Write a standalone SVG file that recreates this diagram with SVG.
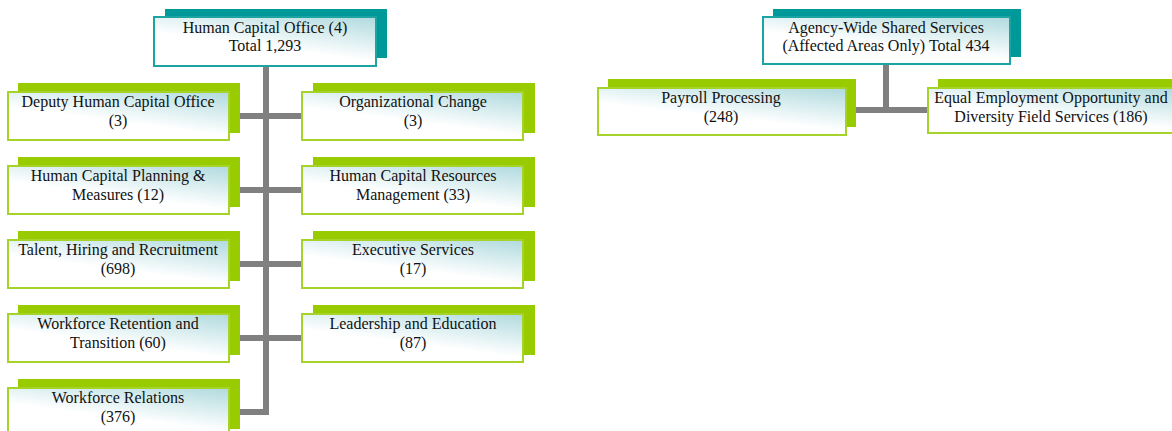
<svg xmlns="http://www.w3.org/2000/svg" width="1172" height="431" viewBox="0 0 1172 431">
  <defs>
    <linearGradient id="fill" x1="0.95" y1="0" x2="0.35" y2="1">
      <stop offset="0" stop-color="#b2dbdf"/>
      <stop offset="0.65" stop-color="#ffffff"/>
    </linearGradient>
    <style>
      .sh-g { fill: #99cc00; }
      .sh-t { fill: #009999; }
      .box-g { fill: url(#fill); stroke: #a6d32a; stroke-width: 2; }
      .box-t { fill: url(#fill); stroke: #1ea3a3; stroke-width: 2; }
      .conn { fill: none; stroke: #808080; stroke-width: 6; stroke-linejoin: miter; stroke-linecap: butt; }
      .lbl { font-family: 'Liberation Serif', 'Times New Roman', Times, serif; font-size: 16px; fill: #111111; text-anchor: middle; }
    </style>
  </defs>
  <rect width="1172" height="431" fill="#ffffff"/>

  <!-- connectors -->
  <g id="connectors">
    <path class="conn" d="M266 66 V412 H229"/>
    <path class="conn" d="M229 116 H302"/>
    <path class="conn" d="M229 190 H302"/>
    <path class="conn" d="M229 264 H302"/>
    <path class="conn" d="M229 338 H302"/>
    <path class="conn" d="M886 64 V110"/>
    <path class="conn" d="M846 110 H927"/>
  </g>

  <g class="lbl" font-family="Liberation Serif, serif">
  <!-- Human Capital Office tree -->
  <g id="hco">
    <rect class="sh-t" x="165" y="9" width="222" height="49"/>
    <rect class="box-t" x="154" y="17" width="222" height="49"/>
    <text x="265" y="33">Human Capital Office (4)</text>
    <text x="265" y="51">Total 1,293</text>
  </g>

  <g id="deputy">
    <rect class="sh-g" x="18" y="83" width="222" height="50"/>
    <rect class="box-g" x="8" y="92" width="221" height="48"/>
    <text x="118" y="107">Deputy Human Capital Office</text>
    <text x="118" y="126">(3)</text>
  </g>

  <g id="planning">
    <rect class="sh-g" x="18" y="157" width="222" height="50"/>
    <rect class="box-g" x="8" y="166" width="221" height="48"/>
    <text x="118" y="181">Human Capital Planning &amp;</text>
    <text x="118" y="200">Measures (12)</text>
  </g>

  <g id="talent">
    <rect class="sh-g" x="18" y="231" width="222" height="50"/>
    <rect class="box-g" x="8" y="240" width="221" height="48"/>
    <text x="118" y="255">Talent, Hiring and Recruitment</text>
    <text x="118" y="274">(698)</text>
  </g>

  <g id="retention">
    <rect class="sh-g" x="18" y="305" width="222" height="50"/>
    <rect class="box-g" x="8" y="314" width="221" height="48"/>
    <text x="118" y="329">Workforce Retention and</text>
    <text x="118" y="348">Transition (60)</text>
  </g>

  <g id="relations">
    <rect class="sh-g" x="18" y="379" width="222" height="50"/>
    <rect class="box-g" x="8" y="388" width="221" height="48"/>
    <text x="118" y="403">Workforce Relations</text>
    <text x="118" y="422">(376)</text>
  </g>

  <g id="org-change">
    <rect class="sh-g" x="313" y="83" width="222" height="50"/>
    <rect class="box-g" x="302" y="92" width="221" height="48"/>
    <text x="413" y="107">Organizational Change</text>
    <text x="413" y="126">(3)</text>
  </g>

  <g id="resources">
    <rect class="sh-g" x="313" y="157" width="222" height="50"/>
    <rect class="box-g" x="302" y="166" width="221" height="48"/>
    <text x="413" y="181">Human Capital Resources</text>
    <text x="413" y="200">Management (33)</text>
  </g>

  <g id="executive">
    <rect class="sh-g" x="313" y="231" width="222" height="50"/>
    <rect class="box-g" x="302" y="240" width="221" height="48"/>
    <text x="413" y="255">Executive Services</text>
    <text x="413" y="274">(17)</text>
  </g>

  <g id="leadership">
    <rect class="sh-g" x="313" y="305" width="222" height="50"/>
    <rect class="box-g" x="302" y="314" width="221" height="48"/>
    <text x="413" y="329">Leadership and Education</text>
    <text x="413" y="348">(87)</text>
  </g>

  <!-- Agency-wide shared services tree -->
  <g id="shared">
    <rect class="sh-t" x="773" y="9" width="248" height="48"/>
    <rect class="box-t" x="763" y="17" width="247" height="47"/>
    <text x="886" y="33">Agency-Wide Shared Services</text>
    <text x="886" y="51">(Affected Areas Only) Total 434</text>
  </g>

  <g id="payroll">
    <rect class="sh-g" x="608" y="79" width="248" height="48"/>
    <rect class="box-g" x="598" y="88" width="248" height="47"/>
    <text x="721" y="103">Payroll Processing</text>
    <text x="721" y="122">(248)</text>
  </g>

  <g id="eeo">
    <rect class="sh-g" x="938" y="79" width="248" height="48"/>
    <rect class="box-g" x="928" y="88" width="248" height="45"/>
    <text x="1051" y="103">Equal Employment Opportunity and</text>
    <text x="1051" y="122">Diversity Field Services (186)</text>
  </g>
  </g>
</svg>
